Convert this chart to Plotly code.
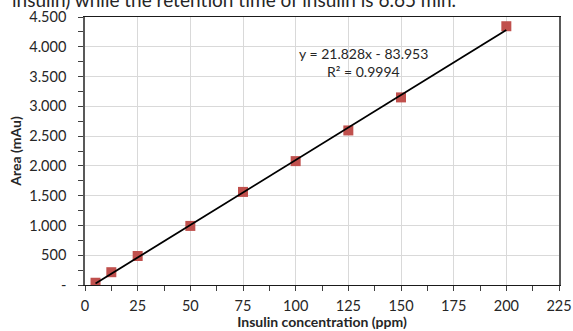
import plotly.graph_objects as go

conc = [5, 12.5, 25, 50, 75, 100, 125, 150, 200]
area = [38, 215, 487, 992, 1563, 2080, 2595, 3150, 4345]
slope, intercept = 21.828, -83.953
x_ticks = [0, 25, 50, 75, 100, 125, 150, 175, 200, 225]
y_ticks = [0, 500, 1000, 1500, 2000, 2500, 3000, 3500, 4000, 4500]
y_labels = ["-", "500", "1.000", "1.500", "2.000", "2.500", "3.000", "3.500", "4.000", "4.500"]

fit_x = [min(conc), max(conc)]
fit_y = [slope * v + intercept for v in fit_x]

FONT = "Lato, Open Sans, sans-serif"

fig = go.Figure()
fig.add_trace(go.Scatter(x=conc, y=area, mode="markers",
                         marker=dict(symbol="square", size=10, color="#C0504D",
                                     line=dict(width=0)), showlegend=False))
fig.add_trace(go.Scatter(x=fit_x, y=fit_y, mode="lines",
                         line=dict(color="black", width=1.8), showlegend=False))

fig.update_layout(
    width=573, height=331,
    margin=dict(l=85, r=14, t=17, b=46, autoexpand=False),
    paper_bgcolor="white", plot_bgcolor="white",
    font=dict(family=FONT, size=14.5, color="#262626"),
    xaxis=dict(range=[0, 225], tickvals=x_ticks, ticktext=[str(v) for v in x_ticks],
               automargin=False,
               showgrid=True, gridcolor="#D9D9D9", gridwidth=1,
               showline=True, linecolor="#1a1a1a", linewidth=1.2, mirror=True,
               ticks="outside", ticklen=5, tickcolor="#404040",
               ticklabelstandoff=2,
               minor=dict(ticks="outside", dtick=12.5, ticklen=5, tickcolor="#404040", showgrid=False),
               zeroline=False,
               title=dict(text="<b>Insulin concentration (ppm)</b>", standoff=2,
                          font=dict(size=14, color="#262626"))),
    yaxis=dict(range=[0, 4500], tickvals=y_ticks, ticktext=y_labels,
               automargin=False,
               showgrid=True, gridcolor="#D9D9D9", gridwidth=1,
               showline=True, linecolor="#595959", linewidth=1.5, mirror=True,
               ticks="outside", ticklen=5, tickcolor="#404040",
               ticklabelstandoff=9,
               minor=dict(ticks="outside", dtick=250, ticklen=5, tickcolor="#404040", showgrid=False),
               zeroline=False,
               title=dict(text="<b>Area (mAu)</b>", standoff=4,
                          font=dict(size=14, color="#262626"))),
)

fig.add_annotation(xref="x", yref="y", x=132, y=3883, text="y = 21.828x - 83.953",
                   showarrow=False, xanchor="center", yanchor="middle",
                   font=dict(size=14, color="#262626"))
fig.add_annotation(xref="x", yref="y", x=132, y=3580, text="R² = 0.9994",
                   showarrow=False, xanchor="center", yanchor="middle",
                   font=dict(size=14, color="#262626"))

fig.add_annotation(xref="paper", yref="paper", x=-0.158, y=1.067, xanchor="left", yanchor="middle",
                   text="insulin) while the retention time of insulin is 6.65 min.",
                   showarrow=False, font=dict(size=19, color="#262626"))

fig.write_html("out.html", config={"displayModeBar": False},
               post_script="document.body.style.margin='0';")
